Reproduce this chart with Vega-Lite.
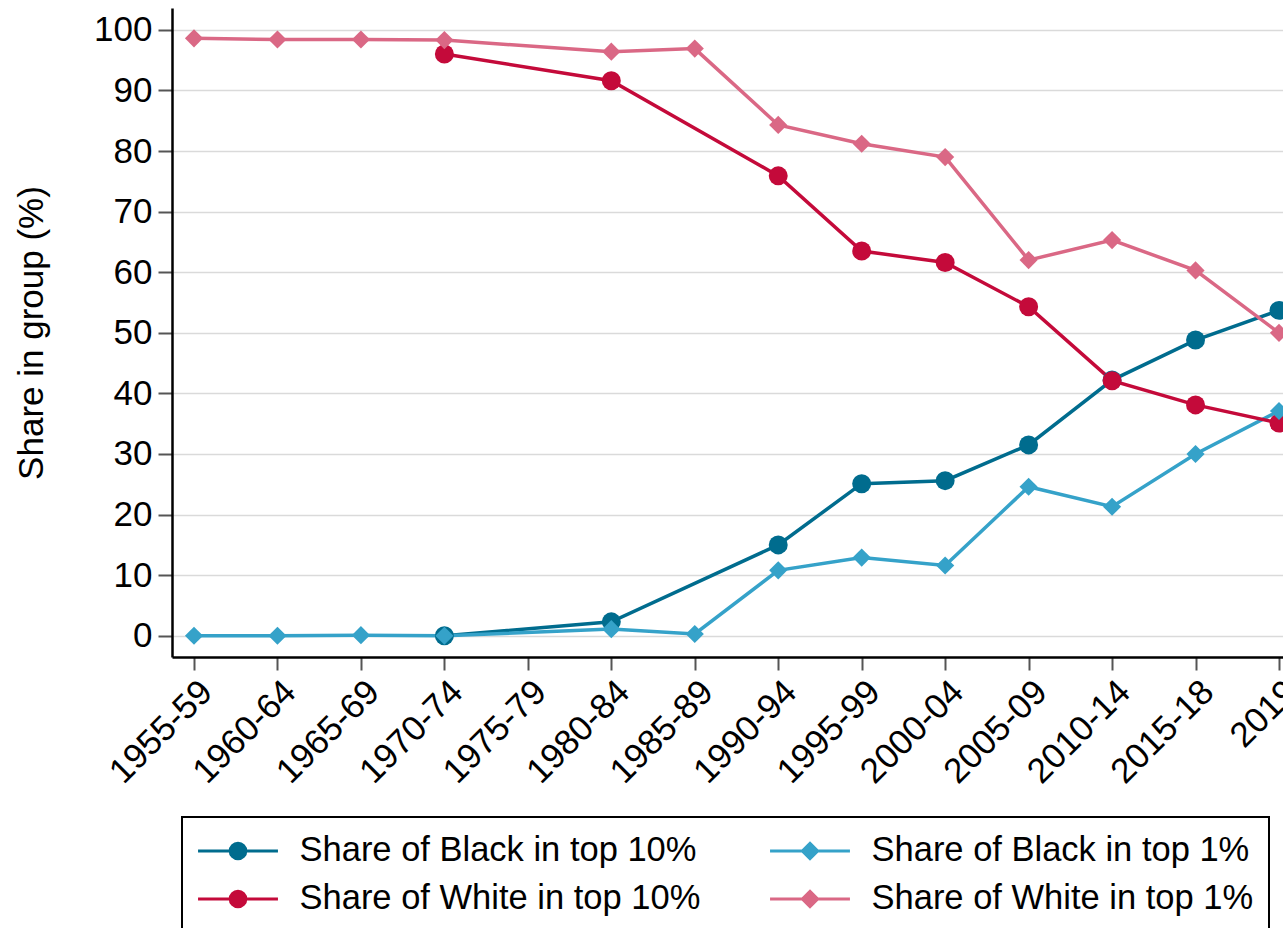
{
  "$schema": "https://vega.github.io/schema/vega-lite/v6.json",
  "description": "Share of Black and White households in top income groups",
  "width": 1111,
  "height": 649,
  "autosize": {"type": "none"},
  "padding": {"left": 172, "top": 8, "right": 0, "bottom": 271},
  "data": {
    "values": [
      {"period": "1970-74", "series": "Share of Black in top 10%", "value": 0},
      {"period": "1980-84", "series": "Share of Black in top 10%", "value": 2.3},
      {"period": "1990-94", "series": "Share of Black in top 10%", "value": 15.0},
      {"period": "1995-99", "series": "Share of Black in top 10%", "value": 25.1},
      {"period": "2000-04", "series": "Share of Black in top 10%", "value": 25.6},
      {"period": "2005-09", "series": "Share of Black in top 10%", "value": 31.5},
      {"period": "2010-14", "series": "Share of Black in top 10%", "value": 42.2},
      {"period": "2015-18", "series": "Share of Black in top 10%", "value": 48.8},
      {"period": "2019", "series": "Share of Black in top 10%", "value": 53.7},

      {"period": "1955-59", "series": "Share of Black in top 1%", "value": 0},
      {"period": "1960-64", "series": "Share of Black in top 1%", "value": 0},
      {"period": "1965-69", "series": "Share of Black in top 1%", "value": 0.1},
      {"period": "1970-74", "series": "Share of Black in top 1%", "value": 0},
      {"period": "1980-84", "series": "Share of Black in top 1%", "value": 1.1},
      {"period": "1985-89", "series": "Share of Black in top 1%", "value": 0.3},
      {"period": "1990-94", "series": "Share of Black in top 1%", "value": 10.8},
      {"period": "1995-99", "series": "Share of Black in top 1%", "value": 12.9},
      {"period": "2000-04", "series": "Share of Black in top 1%", "value": 11.6},
      {"period": "2005-09", "series": "Share of Black in top 1%", "value": 24.6},
      {"period": "2010-14", "series": "Share of Black in top 1%", "value": 21.3},
      {"period": "2015-18", "series": "Share of Black in top 1%", "value": 30.0},
      {"period": "2019", "series": "Share of Black in top 1%", "value": 37.1},

      {"period": "1970-74", "series": "Share of White in top 10%", "value": 96.0},
      {"period": "1980-84", "series": "Share of White in top 10%", "value": 91.6},
      {"period": "1990-94", "series": "Share of White in top 10%", "value": 75.9},
      {"period": "1995-99", "series": "Share of White in top 10%", "value": 63.5},
      {"period": "2000-04", "series": "Share of White in top 10%", "value": 61.6},
      {"period": "2005-09", "series": "Share of White in top 10%", "value": 54.3},
      {"period": "2010-14", "series": "Share of White in top 10%", "value": 42.1},
      {"period": "2015-18", "series": "Share of White in top 10%", "value": 38.1},
      {"period": "2019", "series": "Share of White in top 10%", "value": 35.1},

      {"period": "1955-59", "series": "Share of White in top 1%", "value": 98.6},
      {"period": "1960-64", "series": "Share of White in top 1%", "value": 98.4},
      {"period": "1965-69", "series": "Share of White in top 1%", "value": 98.4},
      {"period": "1970-74", "series": "Share of White in top 1%", "value": 98.3},
      {"period": "1980-84", "series": "Share of White in top 1%", "value": 96.4},
      {"period": "1985-89", "series": "Share of White in top 1%", "value": 96.9},
      {"period": "1990-94", "series": "Share of White in top 1%", "value": 84.3},
      {"period": "1995-99", "series": "Share of White in top 1%", "value": 81.2},
      {"period": "2000-04", "series": "Share of White in top 1%", "value": 79.0},
      {"period": "2005-09", "series": "Share of White in top 1%", "value": 62.0},
      {"period": "2010-14", "series": "Share of White in top 1%", "value": 65.3},
      {"period": "2015-18", "series": "Share of White in top 1%", "value": 60.3},
      {"period": "2019", "series": "Share of White in top 1%", "value": 50.0}
    ]
  },
  "encoding": {
    "x": {
      "field": "period",
      "type": "ordinal",
      "title": null,
      "scale": {
        "type": "point",
        "domain": ["1955-59", "1960-64", "1965-69", "1970-74", "1975-79", "1980-84", "1985-89", "1990-94", "1995-99", "2000-04", "2005-09", "2010-14", "2015-18", "2019"],
        "padding": 0.1558,
        "align": 0.846
      },
      "axis": {"labelAngle": -45, "tickSize": 13, "labelPadding": 4, "labelOverlap": false}
    },
    "y": {
      "field": "value",
      "type": "quantitative",
      "title": "Share in group (%)",
      "scale": {"domain": [-3.5, 103.6], "nice": false, "zero": false},
      "axis": {"values": [0, 10, 20, 30, 40, 50, 60, 70, 80, 90, 100], "tickSize": 14, "labelPadding": 6, "titlePadding": 44}
    },
    "color": {
      "field": "series",
      "type": "nominal",
      "scale": {
        "domain": ["Share of Black in top 10%", "Share of Black in top 1%", "Share of White in top 10%", "Share of White in top 1%"],
        "range": ["#006c8e", "#35a2c9", "#c40a3a", "#da6885"]
      },
      "legend": {
        "title": null,
        "orient": "none",
        "direction": "horizontal",
        "legendX": 10,
        "legendY": 809,
        "columns": 2,
        "gridAlign": "all",
        "strokeColor": "black",
        "fillColor": "white",
        "padding": 15.5,
        "labelFontSize": 34.5,
        "labelColor": "black",
        "labelLimit": 700,
        "symbolSize": 1156,
        "symbolStrokeWidth": 3,
        "symbolOffset": 22,
        "labelOffset": 43,
        "rowPadding": 13,
        "columnPadding": 63,
        "encode": {
          "legend": {"update": {"strokeWidth": {"value": 2}}},
          "symbols": {
            "update": {
              "shape": {"signal": "indexof(datum.value, 'top 1%') >= 0 ? 'M-2.35,0H2.35M-0.45,0L0,-0.45L0.45,0L0,0.45Z' : 'M-2.35,0H2.35M0.46,0A0.46,0.46,0,1,1,-0.46,0A0.46,0.46,0,1,1,0.46,0Z'"},
              "fill": {"scale": "color", "field": "value"},
              "stroke": {"scale": "color", "field": "value"},
              "strokeWidth": {"value": 3},
              "size": {"value": 1156},
              "opacity": {"value": 1}
            }
          }
        }
      }
    }
  },
  "layer": [
    {
      "mark": {"type": "line", "strokeWidth": 3.5}
    },
    {
      "transform": [{"filter": "indexof(datum.series, 'top 10%') >= 0"}],
      "mark": {"type": "point", "shape": "circle", "filled": true, "opacity": 1, "size": 360}
    },
    {
      "transform": [{"filter": "indexof(datum.series, 'top 1%') >= 0"}],
      "mark": {"type": "point", "shape": "diamond", "filled": true, "opacity": 1, "size": 330}
    }
  ],
  "config": {
    "view": {"stroke": null},
    "font": "Liberation Sans",
    "axis": {
      "labelFont": "Liberation Sans",
      "titleFont": "Liberation Sans",
      "labelFontSize": 35,
      "titleFontSize": 35,
      "titleFontWeight": "normal",
      "labelColor": "black",
      "titleColor": "black",
      "domainColor": "black",
      "domainWidth": 2.5,
      "tickColor": "#555555",
      "tickWidth": 2,
      "gridColor": "#dadada",
      "gridWidth": 1.5
    },
    "legend": {"labelFont": "Liberation Sans"}
  }
}
